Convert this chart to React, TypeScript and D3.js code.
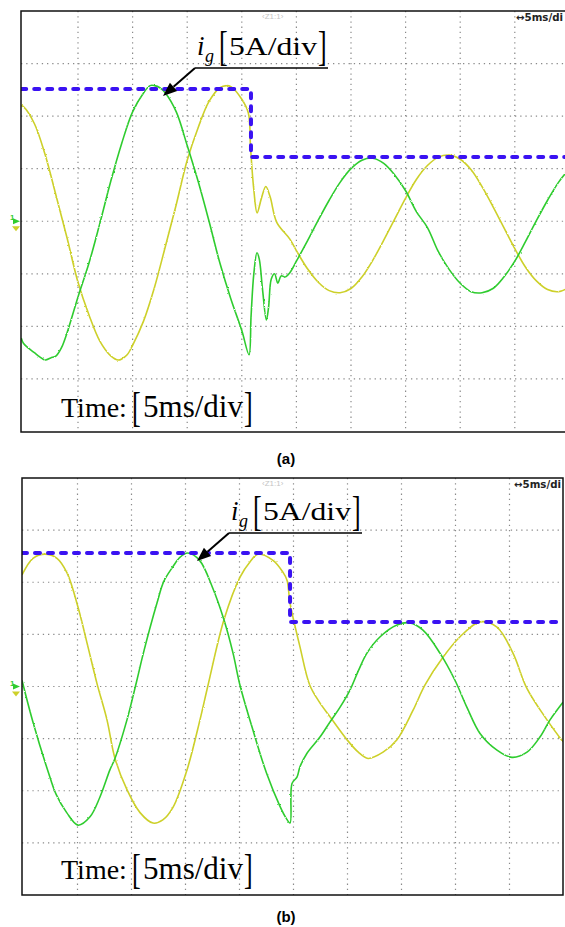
import React from 'react';
import * as d3 from 'd3';

type Pt = [number, number];

// ---------- text ----------
const panelLabels = ['(a)', '(b)'];
const timeWord = 'Time:';
const timeScaleText = '5ms/div';
const currentScaleText = '5A/div';
const scopeTimebase = '\u21945ms/di';
const channelTag = '\u2039Z1:1\u203A';

// ---------- axes (ms, A) ----------
const timeTicks = [0, 5, 10, 15, 20, 25, 30, 35, 40, 45, 50];
const ampTicks = [-20, -15, -10, -5, 0, 5, 10, 15, 20];

// ---------- panel (a) ----------
const greenA: Pt[] = [
  [-0.2, -11.1], [0, -11.6], [0.5, -12.1], [1, -12.5], [1.5, -12.9], [2, -13.2], [2.5, -13.0], [3, -12.8],
  [3.5, -12.0], [4, -10.6], [5, -7.2], [6, -4.0], [7, -0.2], [8, 3.8], [9, 7.4], [10, 10.4], [11, 12.2],
  [11.6, 12.9], [12, 12.9], [12.5, 12.7], [13, 12.2], [14, 10.4], [15, 7.2], [16, 3.8], [17, 0], [18, -4.0],
  [19, -7.4], [20, -10.4], [20.66, -12.7], [20.85, -9.0], [21.1, -5.0], [21.39, -3.0], [21.6, -3.6],
  [21.9, -6.5], [22.25, -9.4], [22.45, -8.2], [22.7, -5.5], [23.0, -5.0], [23.3, -5.9], [23.6, -5.2],
  [24, -5.3], [24.4, -4.9], [25, -3.8], [26, -1.9], [27, 0.1], [28, 2.0], [29, 3.7], [30, 5.0], [31, 5.8],
  [32, 6.0], [33, 5.5], [34, 4.4], [35, 2.9], [36, 0.9], [37, -0.6], [38, -2.9], [39, -4.6], [40, -5.9],
  [41, -6.7], [42, -6.8], [43, -6.4], [44, -5.3], [45, -3.8], [46, -1.9], [47, 0.1], [48, 2.0], [49, 3.7],
  [50, 5.0],
];
const yellowA: Pt[] = [
  [-0.2, 11.0], [0, 10.9], [1, 9.3], [2, 6.3], [3, 2.4], [4, -1.6], [5, -5.8], [6, -8.9], [7, -11.4],
  [8, -12.8], [8.7, -13.2], [9, -13.1], [9.5, -12.7], [10, -11.8], [11, -9.5], [12, -6.3], [13, -2.4],
  [14, 1.6], [15, 5.8], [16, 8.9], [17, 11.4], [18, 12.7], [18.6, 12.9], [19, 12.8], [20, 11.6],
  [20.6, 10.3], [20.8, 7.0], [21.1, 3.0], [21.4, 0.8], [21.8, 2.2], [22.2, 3.3], [22.6, 2.3], [23.2, -0.1],
  [24.4, -1.7], [25, -2.8], [26, -4.5], [27, -5.8], [28, -6.6], [29, -6.8], [30, -6.4], [31, -5.3],
  [32, -3.7], [33, -1.8], [34, 0.2], [35, 2.2], [36, 4.0], [37, 5.3], [38, 6.1], [39, 6.3], [40, 5.9],
  [41, 4.9], [42, 3.3], [43, 1.4], [44, -0.6], [45, -2.6], [46, -4.4], [47, -5.7], [48, -6.5], [49, -6.7],
  [50, -6.3],
];
const referenceA: Pt[] = [[-0.2, 12.57], [20.84, 12.57], [20.84, 6.1], [50, 6.1]];

// ---------- panel (b) ----------
const greenB: Pt[] = [
  [-0.14, 0.6], [0.9, -3.5], [2.45, -8.7], [3, -10.3], [4, -12.1], [5.05, -13.3], [6.16, -12.5],
  [7.08, -10.6], [8, -8.0], [8.47, -6.9], [9.58, -3.2], [10.5, 0.6], [11.1, 3.2], [12.36, 8.0], [13, 10.1],
  [13.84, 11.5], [14.5, 12.4], [15.2, 12.8], [16.3, 12.1], [17.5, 9.5], [18.56, 6.4], [19.4, 3.2],
  [20.05, 0.1], [21.25, -4.2], [22.5, -8.3], [23.75, -11.5], [24.3, -12.6], [24.68, -13.1], [24.86, -9.3],
  [25.32, -8.7], [25.6, -7.7], [26.25, -6.4], [27.45, -4.85], [28.38, -3.4], [29.3, -2.0], [30.23, -0.34],
  [31.0, 1.5], [31.8, 3.2], [33.0, 4.75], [34.58, 5.9], [35.79, 6.1], [36.99, 5.4], [38.56, 3.2],
  [39.95, 0.6], [41.06, -2.0], [42.27, -4.5], [43.84, -6.1], [45.23, -6.8], [46.62, -6.3], [47.82, -4.85],
  [48.75, -3.2], [49.95, -1.5],
];
const yellowB: Pt[] = [
  [-0.14, 10.7], [0.88, 12.3], [1.99, 12.7], [3.1, 12.3], [4.03, 10.9], [5.05, 7.6], [5.97, 3.8],
  [6.8, 0.3], [7.73, -3.2], [8.47, -6.9], [9.58, -9.9], [10.79, -12.1], [11.99, -13.1], [12.9, -12.8],
  [13.84, -11.6], [15.14, -8.0], [16.34, -3.2], [17.08, 0.1], [18.56, 6.4], [20.05, 10.5], [21.0, 12.0],
  [21.7, 12.7], [23.1, 12.1], [24.0, 11.0], [24.4, 10.2], [24.68, 8.0], [25.6, 3.8], [26.5, 0.15],
  [27.4, -1.5], [28.38, -2.9], [29.95, -5.1], [31.0, -6.3], [31.9, -6.9], [33.29, -6.3], [34.58, -5.1],
  [36.06, -2.3], [37.18, 0.15], [38.84, 2.8], [40.4, 4.75], [42.27, 6.2], [43.84, 5.7], [45.32, 3.2],
  [46.6, -0.15], [48.47, -3.2], [49.95, -5.3],
];
const referenceB: Pt[] = [[-0.14, 12.8], [24.68, 12.8], [24.68, 6.19], [49.95, 6.19]];

// ---------- layout ----------
const W = 565;
const H = 927;
const GREEN = '#2fcc2f';
const YELLOW = '#cdd02a';
const BLUE = '#3a12f2';
const SERIF = '"Liberation Serif", "Times New Roman", Times, serif';
const SANS = '"Liberation Sans", Arial, Helvetica, sans-serif';

interface Layout {
  x0: number; x1: number; yTop: number; yBot: number;
  fLeft: number; fTop: number; fRight: number; fBot: number;
  annDx: number; annDy: number; timeDy: number; caption: number; tbX: number;
}

const layoutA: Layout = { x0: 23.4, x1: 569.4, yTop: 11, yBot: 431.5, fLeft: 21, fTop: 11, fRight: 570, fBot: 432, annDx: 0, annDy: 0, timeDy: 0, caption: 464, tbX: 516 };
const layoutB: Layout = { x0: 23.5, x1: 563.5, yTop: 478, yBot: 895, fLeft: 22, fTop: 478, fRight: 563, fBot: 895, annDx: 34, annDy: 465, timeDy: 462, caption: 922, tbX: 514 };

function Arrow({ x1, y1, x2, y2 }: { x1: number; y1: number; x2: number; y2: number }) {
  const dx = x2 - x1, dy = y2 - y1;
  const len = Math.hypot(dx, dy);
  const ux = dx / len, uy = dy / len;
  const hl = 14, hw = 5.5;
  const bx = x2 - ux * hl, by = y2 - uy * hl;
  const px = -uy, py = ux;
  const head = `M${x2},${y2}L${bx + px * hw},${by + py * hw}L${bx - px * hw},${by - py * hw}Z`;
  return (
    <g>
      <line x1={x1} y1={y1} x2={bx} y2={by} stroke="#000" strokeWidth={2} />
      <path d={head} fill="#000" />
    </g>
  );
}

// tall, narrow bracket: a normal-width glyph stretched vertically
function Bracket({ ch, x, y, size }: { ch: string; x: number; y: number; size: number }) {
  const base = 26;
  const k = size / base;
  return (
    <text transform={`translate(${x},${y}) scale(1,${k})`} fontSize={base}>{ch}</text>
  );
}

function Panel({ id, L, green, yellow, reference, label }: { id: string; L: Layout; green: Pt[]; yellow: Pt[]; reference: Pt[]; label: string }) {
  const x = d3.scaleLinear().domain([timeTicks[0], timeTicks[timeTicks.length - 1]]).range([L.x0, L.x1]);
  const y = d3.scaleLinear().domain([ampTicks[0], ampTicks[ampTicks.length - 1]]).range([L.yBot, L.yTop]);
  const trace = d3.line<Pt>().x(d => x(d[0])).y(d => y(d[1])).curve(d3.curveCatmullRom.alpha(0.5));
  const step = d3.line<Pt>().x(d => x(d[0])).y(d => y(d[1]));
  const clipId = `clip-${id}`;
  const noiseId = `noise-${id}`;
  const fw = L.fRight - L.fLeft, fh = L.fBot - L.fTop;
  const gx = timeTicks.slice(1, -1);
  const gy = ampTicks.slice(1, -1);
  const ax = L.annDx, ay = L.annDy;
  const ty = L.timeDy;
  const zeroY = y(0);
  return (
    <g>
      <defs>
        <clipPath id={clipId}>
          <rect x={L.fLeft} y={L.fTop} width={fw} height={fh} />
        </clipPath>
        <filter id={noiseId} x="-2%" y="-2%" width="104%" height="104%">
          <feTurbulence type="fractalNoise" baseFrequency="0.7" numOctaves={1} seed={id === 'a' ? 3 : 7} result="n" />
          <feDisplacementMap in="SourceGraphic" in2="n" scale={2.2} xChannelSelector="R" yChannelSelector="G" />
        </filter>
      </defs>
      <g clipPath={`url(#${clipId})`}>
        {gx.map(t => (
          <line key={'gx' + t} x1={x(t)} x2={x(t)} y1={L.fTop} y2={L.fBot} stroke="#8a8a8a" strokeWidth={1.2} strokeDasharray="1.3 3.9" />
        ))}
        {gy.map(a => (
          <line key={'gy' + a} x1={L.fLeft} x2={L.fRight} y1={y(a)} y2={y(a)} stroke="#8a8a8a" strokeWidth={1.2} strokeDasharray="1.3 3.9" />
        ))}
        <text x={262} y={L.fTop + 8} fontFamily={SANS} fontSize={8} fill="#c4c4c4">{channelTag}</text>
        <text x={L.tbX} y={L.fTop + 10} fontFamily='"DejaVu Sans", sans-serif' fontSize={10} fontWeight="bold" fill="#222" textLength={47} lengthAdjust="spacingAndGlyphs">{scopeTimebase}</text>
        <g filter={`url(#${noiseId})`}>
          <path d={trace(yellow) || ''} fill="none" stroke={YELLOW} strokeWidth={1.6} strokeLinejoin="round" />
          <path d={trace(green) || ''} fill="none" stroke={GREEN} strokeWidth={1.6} strokeLinejoin="round" />
        </g>
        <path d={step(reference) || ''} fill="none" stroke={BLUE} strokeWidth={4} strokeDasharray="5 8" strokeLinecap="round" />
      </g>
      <rect x={L.fLeft} y={L.fTop} width={fw} height={fh} fill="none" stroke="#111" strokeWidth={1.5} />

      {/* channel ground marker */}
      <g>
        <text x={10} y={zeroY - 1} fontFamily={SANS} fontSize={8} fontWeight="bold" fill={GREEN}>1</text>
        <path d={`M13,${zeroY - 3}L20,${zeroY}L13,${zeroY + 3}Z`} fill={GREEN} />
        <path d={`M12,${zeroY + 5}L20,${zeroY + 5}L16,${zeroY + 10}Z`} fill={YELLOW} />
      </g>

      {/* current annotation */}
      <g fontFamily={SERIF} fill="#000">
        <text x={197 + ax} y={55 + ay} fontSize={27} fontStyle="italic">i</text>
        <text x={205 + ax} y={62 + ay} fontSize={18} fontStyle="italic">g</text>
        <Bracket ch="[" x={219 + ax} y={60 + ay} size={42} />
        <text x={229 + ax} y={55 + ay} fontSize={26} textLength={88} lengthAdjust="spacingAndGlyphs">{currentScaleText}</text>
        <Bracket ch="]" x={318 + ax} y={60 + ay} size={42} />
        <line x1={195 + ax} y1={68 + ay} x2={328 + ax} y2={68 + ay} stroke="#000" strokeWidth={1.6} />
        <Arrow x1={195 + ax} y1={68 + ay} x2={163 + ax} y2={96 + ay} />
      </g>

      {/* time annotation */}
      <g fontFamily={SERIF} fill="#000">
        <text x={61} y={417 + ty} fontSize={28}>{timeWord}</text>
        <Bracket ch="[" x={132} y={421 + ty} size={43} />
        <text x={143} y={417 + ty} fontSize={31} textLength={100} lengthAdjust="spacingAndGlyphs">{timeScaleText}</text>
        <Bracket ch="]" x={244} y={421 + ty} size={43} />
      </g>

      <text x={286} y={L.caption} textAnchor="middle" fontFamily={SANS} fontWeight="bold" fontSize={15} fill="#000">{label}</text>
    </g>
  );
}

export default function App() {
  return (
    <svg width={W} height={H} viewBox={`0 0 ${W} ${H}`} style={{ position: 'absolute', left: 0, top: 0, background: '#fff' }}>
      <rect x={0} y={0} width={W} height={H} fill="#fff" />
      <Panel id="a" L={layoutA} green={greenA} yellow={yellowA} reference={referenceA} label={panelLabels[0]} />
      <Panel id="b" L={layoutB} green={greenB} yellow={yellowB} reference={referenceB} label={panelLabels[1]} />
    </svg>
  );
}
